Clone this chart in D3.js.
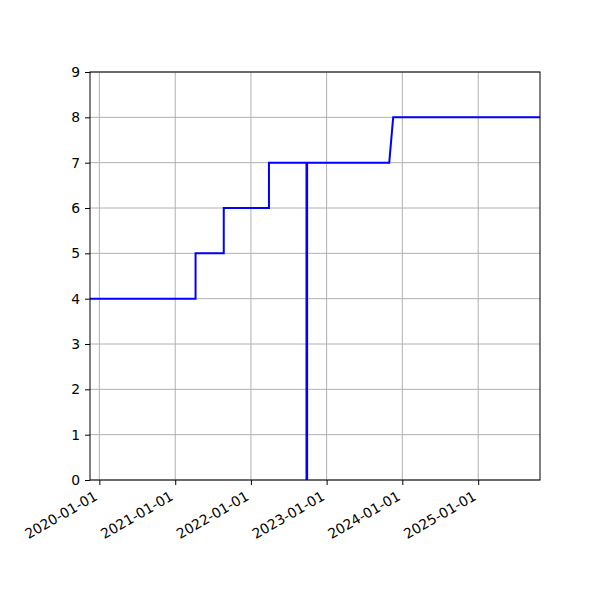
<!DOCTYPE html>
<html>
<head>
<meta charset="utf-8">
<script src="https://cdn.jsdelivr.net/npm/d3@7"></script>
<style>
  body { margin: 0; background: #fff; }
  svg text { font-family: "DejaVu Sans", sans-serif; font-size: 13.9px; fill: #000; }
</style>
</head>
<body>
<svg width="600" height="600"></svg>
<script>
// vertices of the line
const dates = ["2019-11-17", "2021-04-09", "2021-04-09", "2021-08-23", "2021-08-23",
  "2022-03-29", "2022-03-29", "2022-09-26", "2022-09-26", "2022-09-29", "2022-09-29",
  "2023-10-30", "2023-11-18", "2025-10-26"];
const values = [4, 4, 5, 5, 6, 6, 7, 7, 0, 0, 7, 7, 8, 8];
const xTicks = ["2020-01-01", "2021-01-01", "2022-01-01", "2023-01-01", "2024-01-01", "2025-01-01"];
const yTicks = [0, 1, 2, 3, 4, 5, 6, 7, 8, 9];
const xLimits = ["2019-11-17", "2025-10-26"];
const yLimits = [0, 9];

const parse = d3.utcParse("%Y-%m-%d");
const data = dates.map((d, i) => ({ date: parse(d), value: values[i] }));

const plotLeft = 90, plotRight = 540, plotTop = 72, plotBottom = 480;
const svg = d3.select("svg");

const x = d3.scaleUtc().domain(xLimits.map(parse)).range([plotLeft, plotRight]);
const y = d3.scaleLinear().domain(yLimits).range([plotBottom, plotTop]);

//grid
svg.append("g").selectAll("line")
  .data(xTicks.map(parse))
  .enter().append("line")
  .attr("x1", d => x(d)).attr("x2", d => x(d))
  .attr("y1", plotTop).attr("y2", plotBottom)
  .style("stroke", "#b0b0b0").style("stroke-width", 1);
svg.append("g").selectAll("line")
  .data(yTicks)
  .enter().append("line")
  .attr("x1", plotLeft).attr("x2", plotRight)
  .attr("y1", d => y(d)).attr("y2", d => y(d))
  .style("stroke", "#b0b0b0").style("stroke-width", 1);

//line
const line = d3.line().x(d => x(d.date)).y(d => y(d.value));
svg.append("defs").append("clipPath").attr("id", "clip")
  .append("rect").attr("x", plotLeft).attr("y", plotTop - 2)
  .attr("width", plotRight - plotLeft).attr("height", plotBottom - plotTop + 2);
svg.append("path")
  .datum(data)
  .attr("clip-path", "url(#clip)")
  .attr("d", line)
  .style("fill", "none")
  .style("stroke", "#0000ff")
  .style("stroke-width", 2);

//axes
const xAxis = d3.axisBottom(x)
  .tickValues(xTicks.map(parse))
  .tickFormat(d3.utcFormat("%Y-%m-%d"))
  .tickSizeInner(5).tickSizeOuter(0).tickPadding(5);
const gx = svg.append("g")
  .attr("transform", `translate(0, ${plotBottom})`)
  .call(xAxis);
gx.select(".domain").remove();
gx.selectAll("text")
  .style("text-anchor", "end")
  .attr("dy", null)
  .attr("y", 0)
  .attr("transform", "translate(-1.5, 19) rotate(-30)");

const yAxis = d3.axisLeft(y)
  .tickValues(yTicks)
  .tickSizeInner(5).tickSizeOuter(0).tickPadding(5);
const gy = svg.append("g")
  .attr("transform", `translate(${plotLeft}, 0)`)
  .call(yAxis);
gy.select(".domain").remove();

svg.selectAll(".tick line").style("stroke", "#000").style("stroke-width", 1);
svg.selectAll(".tick text").style("font-family", "DejaVu Sans").style("font-size", "13.9px");

//frame
svg.append("rect")
  .attr("x", plotLeft).attr("y", plotTop)
  .attr("width", plotRight - plotLeft).attr("height", plotBottom - plotTop)
  .style("fill", "none").style("stroke", "#000").style("stroke-width", 1);
</script>
</body>
</html>
